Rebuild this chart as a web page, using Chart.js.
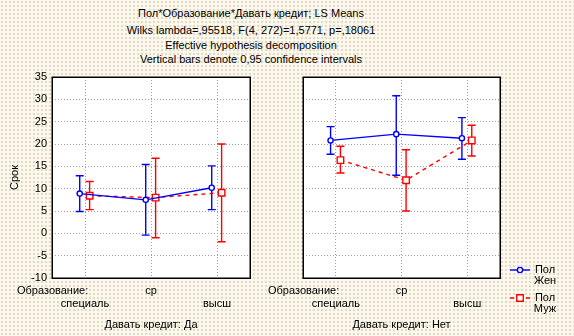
<!DOCTYPE html>
<html>
<head>
<meta charset="utf-8">
<script src="https://cdn.jsdelivr.net/npm/chart.js@4.4.1/dist/chart.umd.min.js"></script>
<style>
  html, body { margin: 0; padding: 0; }
  body {
    width: 574px; height: 336px; position: relative; overflow: hidden;
    background-color: #fbf9ec;
    background-image: radial-gradient(circle, #e4d6c8 0.7px, transparent 0.9px);
    background-size: 4px 4px;
    font-family: "Liberation Sans", Arial, sans-serif; font-size: 11px; color: #000;
  }
  .hdr { position: absolute; left: 0; width: 502px; text-align: center; line-height: 13px; white-space: nowrap; }
  .panel { position: absolute; top: 60px; height: 276px; }
  .panel canvas { display: block; }
</style>
</head>
<body>
<div id="hdr"></div>
<div class="panel" style="left:0;width:262px"><canvas id="left" width="262" height="276"></canvas></div>
<div class="panel" style="left:262px;width:312px"><canvas id="right" width="312" height="276"></canvas></div>

<script>
// Header lines
const titleLines = [
  'Пол*Образование*Давать кредит; LS Means',
  'Wilks lambda=,95518, F(4, 272)=1,5771, p=,18061',
  'Effective hypothesis decomposition',
  'Vertical bars denote 0,95 confidence intervals'
];

// Factor levels and labels
const categories = ['специаль', 'ср', 'высш'];
const axisFactor = 'Образование:';
const panelNames = ['Давать кредит: Да', 'Давать кредит: Нет'];
const legendFactor = 'Пол';
const seriesNames = ['Жен', 'Муж'];
const yAxisTitle = 'Срок';
const yMin = -10, yMax = 35, yStep = 5;

// Давать кредит: Да
const yesFemaleMean = [8.9, 7.5, 10.2];
const yesFemaleLow  = [4.9, -0.4, 5.3];
const yesFemaleHigh = [12.9, 15.4, 15.1];
const yesMaleMean   = [8.4, 8.0, 9.1];
const yesMaleLow    = [5.3, -1.0, -1.9];
const yesMaleHigh   = [11.6, 16.8, 20.0];

// Давать кредит: Нет
const noFemaleMean = [20.8, 22.2, 21.3];
const noFemaleLow  = [17.7, 13.0, 16.6];
const noFemaleHigh = [23.9, 30.8, 25.9];
const noMaleMean   = [16.4, 11.9, 20.8];
const noMaleLow    = [13.5, 5.0, 17.3];
const noMaleHigh   = [19.5, 18.7, 24.2];

// ---- header text
const tops = [7, 24, 39, 53];
const hdr = document.getElementById('hdr');
titleLines.forEach((t, i) => {
  const d = document.createElement('div');
  d.className = 'hdr';
  d.style.top = tops[i] + 'px';
  d.textContent = t;
  hdr.appendChild(d);
});

Chart.defaults.font.family = '"Liberation Sans", Arial, sans-serif';
Chart.defaults.font.size = 11;
Chart.defaults.color = '#000';

const BLUE = '#0000ff', RED = '#ff0000';
const dodge = [-0.08, 0.07];
const seriesStyle = [
  { color: BLUE, pointStyle: 'circle', radius: 2.6, dash: [] },
  { color: RED, pointStyle: 'rect', radius: 4.6, dash: [4, 4] }
];

function makeDataset(k, mean, low, high) {
  const s = seriesStyle[k];
  return {
    label: [legendFactor, seriesNames[k]],
    data: mean.map((v, i) => ({ x: i + dodge[k], y: v })),
    errLow: low,
    errHigh: high,
    borderColor: s.color,
    backgroundColor: '#ffffff',
    borderWidth: 1.4,
    borderDash: s.dash,
    pointStyle: s.pointStyle,
    pointRadius: s.radius,
    pointBorderWidth: 1.4,
    pointBorderColor: s.color,
    pointBackgroundColor: '#ffffff',
    tension: 0,
    fill: false
  };
}

const panelDecor = {
  id: 'panelDecor',
  beforeDraw(chart) {
    const { ctx, chartArea: a } = chart;
    ctx.save();
    ctx.fillStyle = '#ffffff';
    ctx.fillRect(a.left, a.top, a.right - a.left, a.bottom - a.top);
    ctx.restore();
  },
  beforeDatasetsDraw(chart) {
    // confidence interval whiskers
    const { ctx } = chart;
    const ys = chart.scales.y;
    chart.data.datasets.forEach((ds, di) => {
      const meta = chart.getDatasetMeta(di);
      ctx.save();
      ctx.strokeStyle = ds.borderColor;
      ctx.lineWidth = 1.4;
      meta.data.forEach((pt, i) => {
        const x = pt.x;
        const y1 = ys.getPixelForValue(ds.errLow[i]);
        const y2 = ys.getPixelForValue(ds.errHigh[i]);
        const cap = 4;
        ctx.beginPath();
        ctx.moveTo(x, y1); ctx.lineTo(x, y2);
        ctx.moveTo(x - cap, y1); ctx.lineTo(x + cap, y1);
        ctx.moveTo(x - cap, y2); ctx.lineTo(x + cap, y2);
        ctx.stroke();
      });
      ctx.restore();
    });
  },
  afterDatasetsDraw(chart) {
    const { ctx, chartArea: a } = chart;
    ctx.save();
    ctx.strokeStyle = '#000';
    ctx.lineWidth = 1.5;
    ctx.strokeRect(Math.round(a.left) + 0.25, Math.round(a.top) + 0.25,
                   Math.round(a.right - a.left), Math.round(a.bottom - a.top));
    ctx.restore();
  },
  afterDraw(chart, args, opts) {
    const { ctx, chartArea: a } = chart;
    const xs = chart.scales.x;
    ctx.save();
    ctx.font = '11px "Liberation Sans", Arial, sans-serif';
    ctx.fillStyle = '#000';
    ctx.textBaseline = 'middle';
    ctx.textAlign = 'left';
    ctx.fillText(axisFactor, a.left - 35, xs.top + 6 + 6.6);

    if (opts.legend) {
      const x0 = a.right + 10, x1 = a.right + 30, xm = a.right + 20, xt = a.right + 45;
      const rows = [210, 238];
      chart.data.datasets.forEach((ds, di) => {
        const y = rows[di];
        ctx.strokeStyle = ds.borderColor;
        ctx.lineWidth = 1.4;
        ctx.setLineDash(ds.borderDash);
        ctx.beginPath(); ctx.moveTo(x0, y); ctx.lineTo(x1, y); ctx.stroke();
        ctx.setLineDash([]);
        ctx.fillStyle = '#ffffff';
        Chart.helpers.drawPoint(ctx, {
          pointStyle: ds.pointStyle, radius: ds.pointRadius,
          borderWidth: ds.pointBorderWidth, rotation: 0
        }, xm, y);
        ctx.fillStyle = '#000';
        ctx.textAlign = 'center';
        ctx.fillText(ds.label[0], xt, y);
        ctx.fillText(ds.label[1], xt, y + 11);
      });
    }
    ctx.restore();
  }
};

function panelOptions(idx, showY, padRight) {
  return {
    responsive: false,
    animation: false,
    layout: { padding: { top: 17, right: padRight, bottom: 0, left: 0 } },
    plugins: {
      legend: { display: false },
      tooltip: { enabled: false },
      panelDecor: { legend: idx === 1 }
    },
    scales: {
      x: {
        type: 'linear', min: -0.5, max: 2.5,
        afterBuildTicks(s) { s.ticks = categories.map((c, i) => ({ value: i })); },
        afterFit(s) { s.height = 58; },
        ticks: {
          autoSkip: false, maxRotation: 0, padding: 6, color: '#000',
          callback(v) {
            const i = Math.round(v);
            return i % 2 === 1 ? [categories[i], ''] : ['', categories[i]];
          }
        },
        grid: { color: '#a0a0a0', lineWidth: 1, drawTicks: false },
        border: { display: false, dash: [1, 2] },
        title: { display: true, text: panelNames[idx], color: '#000', padding: { top: 0, bottom: 4.5 } }
      },
      y: {
        type: 'linear', min: yMin, max: yMax,
        afterFit(s) { s.width = showY ? 52 : 41; },
        ticks: { display: showY, stepSize: yStep, padding: 5, color: '#000' },
        grid: { color: '#a0a0a0', lineWidth: 1, drawTicks: false },
        border: { display: false, dash: [1, 2] },
        title: { display: showY, text: yAxisTitle, color: '#000', padding: { top: 8.5, bottom: 0 } }
      }
    }
  };
}

new Chart(document.getElementById('left'), {
  type: 'line',
  data: {
    datasets: [
      makeDataset(0, yesFemaleMean, yesFemaleLow, yesFemaleHigh),
      makeDataset(1, yesMaleMean, yesMaleLow, yesMaleHigh)
    ]
  },
  options: panelOptions(0, true, 12),
  plugins: [panelDecor]
});

new Chart(document.getElementById('right'), {
  type: 'line',
  data: {
    datasets: [
      makeDataset(0, noFemaleMean, noFemaleLow, noFemaleHigh),
      makeDataset(1, noMaleMean, noMaleLow, noMaleHigh)
    ]
  },
  options: panelOptions(1, false, 74),
  plugins: [panelDecor]
});
</script>
</body>
</html>
